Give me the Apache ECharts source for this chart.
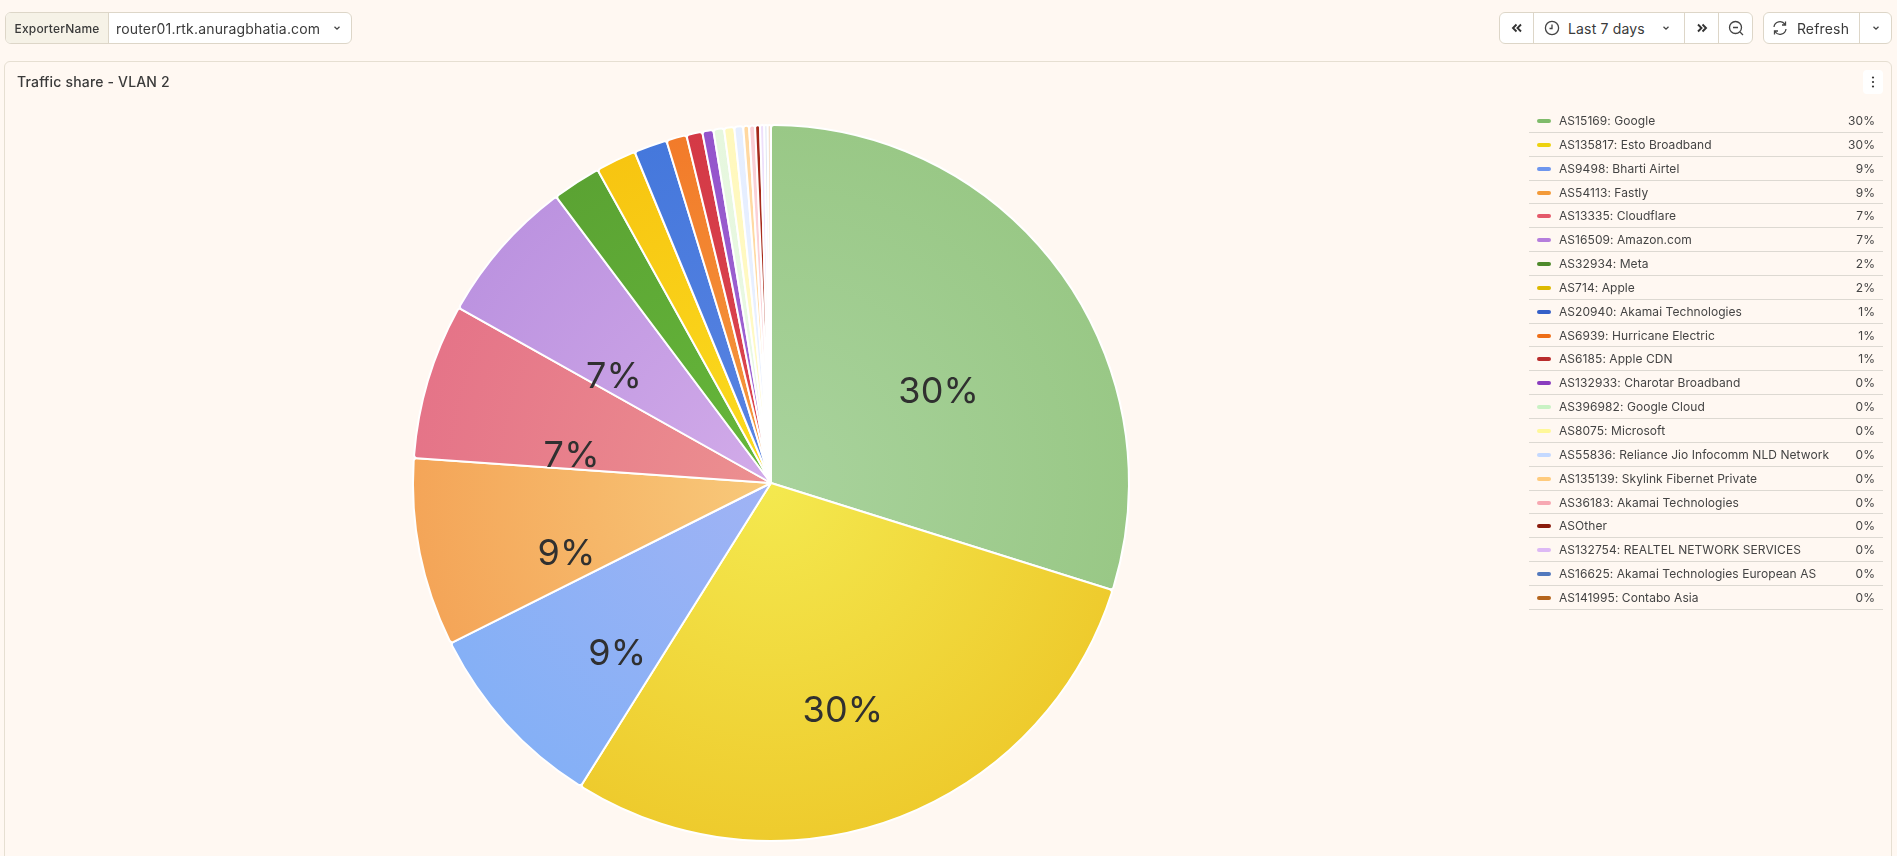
<!DOCTYPE html>
<html><head><meta charset="utf-8">
<script src="https://cdn.jsdelivr.net/npm/echarts@6/dist/echarts.min.js"></script>
<style>
html,body{margin:0;padding:0;width:1897px;height:856px;overflow:hidden;background:#FFF8F2;font-family:Inter,sans-serif;color:#3a3a3a;letter-spacing:.01071em}
#chart{position:absolute;left:0;top:0;width:1897px;height:856px}
.box{position:absolute;top:12px;height:32px;box-sizing:border-box;border:1px solid #DDD6C8;border-radius:6px;background:#fff;display:flex;align-items:center;font-size:14px;overflow:hidden}
.cell{height:100%;display:flex;align-items:center;justify-content:center;box-sizing:border-box}
.cell+.cell{border-left:1px solid #DDD6C8}
#panel{position:absolute;left:4px;top:61px;width:1888px;height:820px;box-sizing:border-box;border:1px solid #E6DFD2;border-radius:6px}
#title{position:absolute;left:17px;top:73px;font-size:14px;line-height:18px;font-weight:500;color:#3a3a3a}
#kebab{position:absolute;left:1863px;top:70px;width:20px;height:24px;border-radius:4px;background:#fff;display:flex;align-items:center;justify-content:center}
#legend{position:absolute;left:1529px;top:109px;width:354px;font-size:12px;color:#444;letter-spacing:.06px}
.row{position:relative;height:23.85px;box-sizing:border-box;border-bottom:1px solid #DDD9D2;line-height:23px;white-space:nowrap}
.sw{position:absolute;left:8px;top:10px;width:14px;height:4px;border-radius:2px}
.nm{position:absolute;left:30px;top:0}
.pc{position:absolute;right:8px;top:0}
</style></head><body>
<div id="panel"></div>
<div id="chart"></div>
<div class="box" style="left:5px;width:347px">
  <div class="cell" style="width:102px;background:#F6F2E7;font-size:12px;font-weight:500">ExporterName</div>
  <div class="cell" style="flex:1;justify-content:flex-start;padding-left:7px">router01.rtk.anuragbhatia.com
    <svg style="margin-left:12px" width="10" height="10" viewBox="0 0 10 10"><path d="M2.5 3.8L5 6.2L7.5 3.8" fill="none" stroke="#444" stroke-width="1.3"/></svg></div>
</div>
<div class="box" style="left:1499px;width:254px">
  <div class="cell" style="width:33px"><svg width="12" height="10" viewBox="0 0 12 10"><path d="M5.5 1.5L2 5L5.5 8.5M10 1.5L6.5 5L10 8.5" fill="none" stroke="#333" stroke-width="1.9"/></svg></div>
  <div class="cell" style="width:151px;justify-content:flex-start;padding-left:10px">
    <svg width="16" height="16" viewBox="0 0 16 16"><circle cx="8" cy="8" r="6.6" fill="none" stroke="#444" stroke-width="1.3"/><path d="M8 4.5V8.5H5.5" fill="none" stroke="#444" stroke-width="1.3"/></svg>
    <span style="margin-left:8px">Last 7 days</span>
    <svg style="margin-left:16px" width="10" height="10" viewBox="0 0 10 10"><path d="M2.5 3.8L5 6.2L7.5 3.8" fill="none" stroke="#444" stroke-width="1.3"/></svg></div>
  <div class="cell" style="width:34px"><svg width="12" height="10" viewBox="0 0 12 10"><path d="M2 1.5L5.5 5L2 8.5M6.5 1.5L10 5L6.5 8.5" fill="none" stroke="#333" stroke-width="1.9"/></svg></div>
  <div class="cell" style="flex:1"><svg width="16" height="16" viewBox="0 0 16 16"><circle cx="7.5" cy="7.5" r="6" fill="none" stroke="#444" stroke-width="1.3"/><path d="M5 7.5H10M12 12L15 15" fill="none" stroke="#444" stroke-width="1.3"/></svg></div>
</div>
<div class="box" style="left:1763px;width:129px">
  <div class="cell" style="width:95px;padding-right:2px">
    <svg width="16" height="16" viewBox="0 0 16 16"><path d="M2 7A6 6 0 0 1 13 4.5M14 9A6 6 0 0 1 3 11.5M13.5 1.5V5H10M2.5 14.5V11H6" fill="none" stroke="#444" stroke-width="1.3"/></svg>
    <span style="margin-left:9px">Refresh</span></div>
  <div class="cell" style="flex:1"><svg width="10" height="10" viewBox="0 0 10 10"><path d="M2.5 3.8L5 6.2L7.5 3.8" fill="none" stroke="#444" stroke-width="1.3"/></svg></div>
</div>
<div id="title">Traffic share - VLAN 2</div>
<div id="kebab"><svg width="4" height="12" viewBox="0 0 4 12"><circle cx="2" cy="1.5" r="1.1" fill="#333"/><circle cx="2" cy="6" r="1.1" fill="#333"/><circle cx="2" cy="10.5" r="1.1" fill="#333"/></svg></div>
<div id="legend"></div>
<script>
const names = ["AS15169: Google","AS135817: Esto Broadband","AS9498: Bharti Airtel","AS54113: Fastly","AS13335: Cloudflare","AS16509: Amazon.com","AS32934: Meta","AS714: Apple","AS20940: Akamai Technologies","AS6939: Hurricane Electric","AS6185: Apple CDN","AS132933: Charotar Broadband","AS396982: Google Cloud","AS8075: Microsoft","AS55836: Reliance Jio Infocomm NLD Network","AS135139: Skylink Fibernet Private","AS36183: Akamai Technologies","ASOther","AS132754: REALTEL NETWORK SERVICES","AS16625: Akamai Technologies European AS","AS141995: Contabo Asia"];
const shares = [29.85,29.1,8.7,8.5,7.03,6.62,2.2,1.83,1.5,0.92,0.72,0.5,0.48,0.46,0.4,0.26,0.27,0.22,0.19,0.15,0.15];
const shareLabels = ["30%","30%","9%","9%","7%","7%","2%","2%","1%","1%","1%","0%","0%","0%","0%","0%","0%","0%","0%","0%","0%"];
const legendColors = ["#7FBB6B","#EDD20F","#6E96EE","#F39A38","#E4596A","#B57EDC","#4E8A2C","#DDB900","#3560C8","#EE6E17","#B92C2C","#8A3DBE","#C9F2C4","#FFF899","#C4D9FF","#FFCB7D","#F7A8B2","#8A1B0C","#DDB9F5","#5279BD","#B5651D"];
const innerColors = ["#A9D39D","#F4E94F","#A0B3F5","#F8C97A","#EC9090","#D2ABE9","#66B83B","#FBDC20","#5A84E2","#F59A3E","#DC4750","#A16AD4","#EAF9E4","#FFFAC8","#EAF1FF","#FFDDAA","#FCD5DA","#B0331F","#F1E4FC","#E4EAF6","#F5E3D0"];
const outerColors = ["#99C886","#EECB2D","#85B0F6","#F4A558","#E57488","#BC93E0","#5BA333","#F7C511","#4578DC","#F27B2A","#D43946","#9454CB","#E6F7DE","#FFF8BD","#E5EEFF","#FFD8A0","#FBCFD5","#A4281A","#EEDFFB","#E0E7F4","#F3DFCB"];
const labelShifts = [[21,17],[9,57],[-19,49],[-26,36],[-25,25],[-20,14]];
const pieCenter = [771,483], pieRadius = 358;

document.getElementById('legend').innerHTML = names.map((n,i)=>
 `<div class="row"><span class="sw" style="background:${legendColors[i]}"></span><span class="nm">${n}</span><span class="pc">${shareLabels[i]}</span></div>`).join('');

const chart = echarts.init(document.getElementById('chart'),null,{renderer:'canvas'});
chart.setOption({
  animation:false,
  backgroundColor:'transparent',
  series:[{
    type:'pie',
    center:pieCenter,
    radius:[0,pieRadius],
    startAngle:90,
    clockwise:true,
    avoidLabelOverlap:false,
    silent:true,
    itemStyle:{borderColor:'#fff',borderWidth:2,borderRadius:3},
    labelLine:{show:false},
    labelLayout:p=>{const s=labelShifts[p.dataIndex];return s?{dx:s[0],dy:s[1]}:{}},
    data:names.map((n,i)=>({
      name:n,value:shares[i],
      itemStyle:{color:{type:'radial',x:pieCenter[0],y:pieCenter[1],r:pieRadius,global:true,
        colorStops:[{offset:0,color:innerColors[i]},{offset:1,color:outerColors[i]}]}},
      label:{show:i<labelShifts.length,position:'inside',formatter:shareLabels[i],fontFamily:'Inter',fontSize:36,color:'#303030'}
    }))
  }]
});
</script>
</body></html>
